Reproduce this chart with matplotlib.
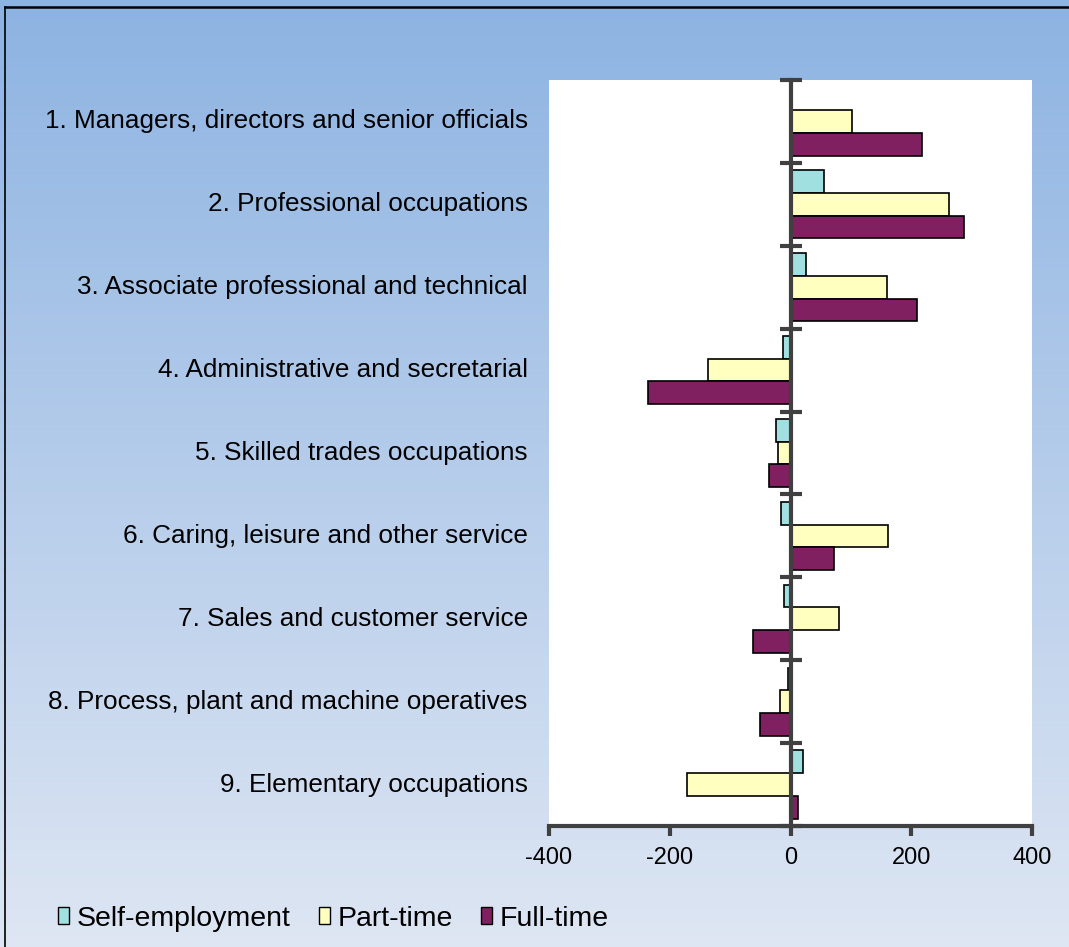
import numpy as np
import matplotlib
matplotlib.use('Agg')
import matplotlib.pyplot as plt
from matplotlib.patches import Patch
from matplotlib.lines import Line2D

plt.rcParams['font.family'] = ['Liberation Sans', 'DejaVu Sans']

# ===== data =====
categories = [
    '1. Managers, directors and senior officials',
    '2. Professional occupations',
    '3. Associate professional and technical',
    '4. Administrative and secretarial',
    '5. Skilled trades occupations',
    '6. Caring, leisure and other service',
    '7. Sales and customer service',
    '8. Process, plant and machine operatives',
    '9. Elementary occupations',
]
self_employment = [0, 55, 25, -12, -24, -16, -10, -5, 20]
part_time = [101, 263, 159, -136, -21, 162, 80, -18, -171]
full_time = [218, 288, 209, -236, -35, 72, -62, -51, 12]
series_names = ['Self-employment', 'Part-time', 'Full-time']
series_colors = ['#A0E0E0', '#FFFFC0', '#802060']
x_ticks = [-400, -200, 0, 200, 400]

axis_grey = '#404040'

# ===== figure + gradient background =====
fig = plt.figure(figsize=(10.69, 9.47), dpi=100)
bg = fig.add_axes([0, 0, 1, 1], zorder=-10)
top_c = np.array([0x8D, 0xB3, 0xE2]) / 255
bot_c = np.array([0xDE, 0xE6, 0xF3]) / 255
t = np.linspace(0, 1, 256)[:, None]
grad = top_c[None, :] * (1 - t) + bot_c[None, :] * t
bg.imshow(grad[:, None, :].repeat(2, axis=1), aspect='auto',
          extent=[0, 1, 0, 1], origin='upper')
bg.set_axis_off()

# frame lines (top and left edges visible)
fig.add_artist(Line2D([0.005, 1.0], [0.9925, 0.9925], color='black', lw=1.8,
                      transform=fig.transFigure))
fig.add_artist(Line2D([0.005, 0.005], [0.0, 0.9925], color='black', lw=1.2,
                      transform=fig.transFigure))

# ===== main axes =====
ax = fig.add_axes([0.5136, 0.1278, 0.4518, 0.7877])
ax.set_facecolor('white')

y = np.arange(len(categories))
h = 0.274
for k, (vals, col) in enumerate(zip([self_employment, part_time, full_time],
                                     series_colors)):
    ax.barh(y + (k - 1) * h, vals, height=h, color=col,
            edgecolor='black', linewidth=1.2, zorder=2)

ax.set_xlim(-400, 400)
ax.set_ylim(len(categories) - 0.5, -0.5)

# spines
ax.spines['top'].set_visible(False)
ax.spines['right'].set_visible(False)
ax.spines['left'].set_position(('data', 0))
ax.spines['left'].set_color(axis_grey)
ax.spines['left'].set_linewidth(3)
ax.spines['left'].set_zorder(3)
ax.spines['bottom'].set_color(axis_grey)
ax.spines['bottom'].set_linewidth(3)

# y ticks at category boundaries, crossing the axis
ax.set_yticks(np.arange(len(categories) + 1) - 0.5)
ax.set_yticklabels([])
ax.tick_params(axis='y', direction='inout', length=16, width=3,
               color=axis_grey)

# category labels
for i, lab in enumerate(categories):
    ax.text(-0.044, i, lab, transform=ax.get_yaxis_transform(),
            ha='right', va='center', fontsize=18.8, color='black')

# x ticks
ax.set_xticks(x_ticks)
ax.set_xticklabels([str(v) for v in x_ticks])
ax.tick_params(axis='x', direction='out', length=7, width=3,
               color=axis_grey, labelsize=17, pad=8)

# ===== legend =====
handles = [Patch(facecolor=c, edgecolor='black', linewidth=1.0)
           for c in series_colors]
fig.legend(handles, series_names, loc='center left',
           bbox_to_anchor=(0.0435, 0.030), ncol=3, frameon=False,
           fontsize=20.5, handlelength=0.4, handleheight=0.5,
           handletextpad=0.25, columnspacing=1.0, borderaxespad=0)

fig.savefig('out.png', dpi=100)
